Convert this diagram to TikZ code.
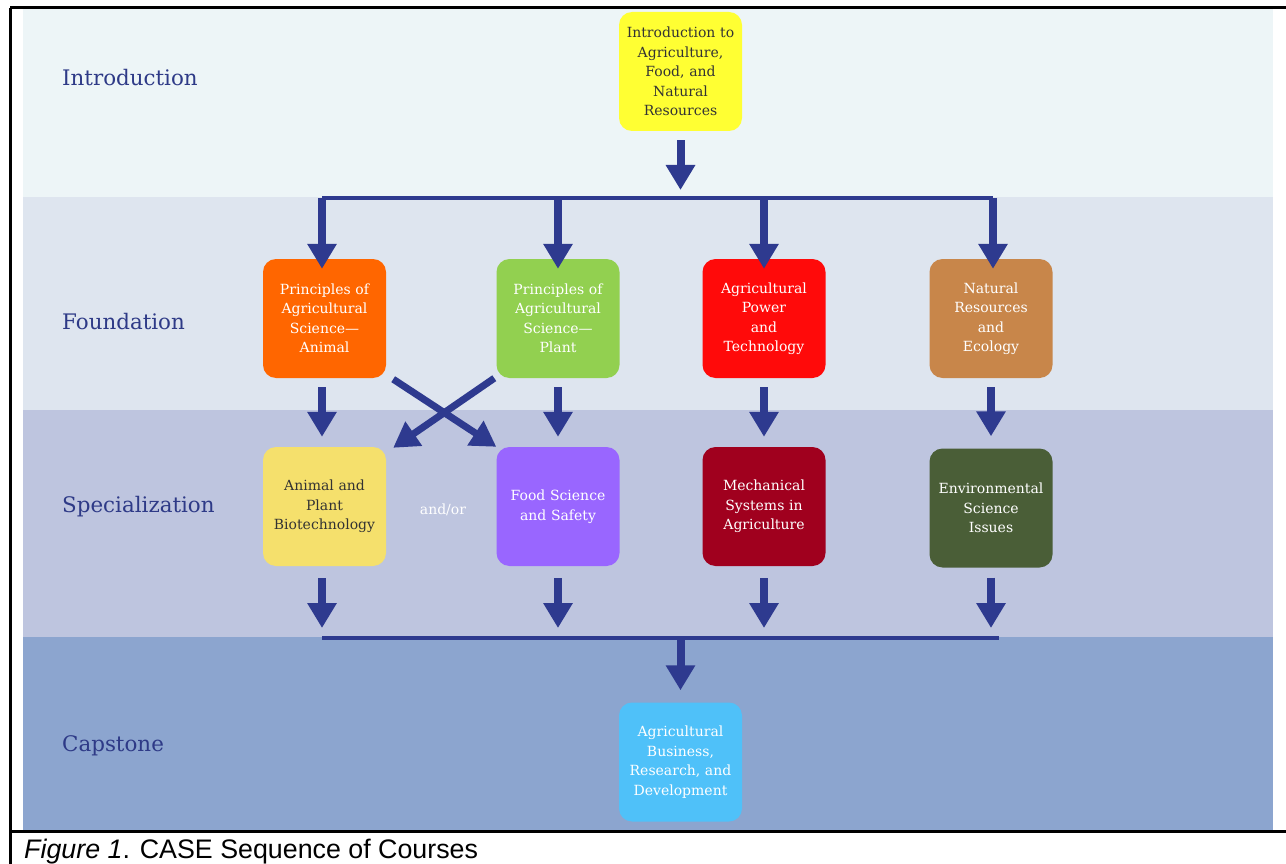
\documentclass[tikz,border=0pt]{standalone}
\usepackage{fontspec}
\setmainfont{DejaVu Serif}
\newfontfamily\capfont{Liberation Sans}
\usetikzlibrary{arrows.meta,calc}
\definecolor{arrowblue}{HTML}{2E3A8F}
\definecolor{labelblue}{HTML}{2E3A87}
\definecolor{bandA}{HTML}{EDF5F7}
\definecolor{bandB}{HTML}{DEE5EF}
\definecolor{bandC}{HTML}{BEC5DF}
\definecolor{bandD}{HTML}{8CA5CF}
\definecolor{cIntro}{HTML}{FFFF33}
\definecolor{cOrange}{HTML}{FF6600}
\definecolor{cGreen}{HTML}{92D050}
\definecolor{cRed}{HTML}{FF0A0A}
\definecolor{cBrown}{HTML}{C8864A}
\definecolor{cYellow}{HTML}{F5E06C}
\definecolor{cPurple}{HTML}{9966FF}
\definecolor{cDarkRed}{HTML}{A0001E}
\definecolor{cDarkGreen}{HTML}{4A5E37}
\definecolor{cCap}{HTML}{4FC1F9}
\definecolor{darktext}{HTML}{333333}
\tikzset{
  course/.style={rounded corners=13pt, minimum width=123pt, minimum height=119pt,
    inner sep=0pt, align=center, text=white,
    font=\fontsize{14}{19.5}\selectfont, text width=120pt},
  levellabel/.style={anchor=west, text=labelblue, font=\fontsize{21.4}{25}\selectfont, inner sep=0pt},
  bigarrow/.style={arrowblue, line width=8pt, -{Triangle[width=28pt,length=25pt]}},
  bus/.style={arrowblue, line width=4pt}
}
\begin{document}
\begin{tikzpicture}[x=1pt,y=-1pt]
\useasboundingbox (0,0) rectangle (1286,864);
% bands
\fill[bandA] (23,9) rectangle (1273,197);
\fill[bandB] (23,197) rectangle (1273,410);
\fill[bandC] (23,410) rectangle (1273,637);
\fill[bandD] (23,637) rectangle (1273,830);
% frame
\draw[line width=3pt] (10,8) -- (1286,8);
\draw[line width=3pt] (10,831) -- (1286,831);
\draw[line width=3pt] (10,8) -- (10,864);
% level labels
\node[levellabel] (lIntro) at (62,78) {Introduction};
\node[levellabel] (lFound) at (62,322) {Foundation};
\node[levellabel] (lSpec) at (62,507) {Specialization};
\node[levellabel] (lCap) at (62,746) {Capstone};
% courses
\node[course, fill=cIntro, text=darktext] (intro) at (680.5,71.5) {Introduction to\\Agriculture,\\Food, and\\Natural\\Resources};
\node[course, fill=cOrange] (animal) at (324.5,318.5) {Principles of\\Agricultural\\Science---\\Animal};
\node[course, fill=cGreen] (plant) at (558,318.5) {Principles of\\Agricultural\\Science---\\Plant};
\node[course, fill=cRed] (power) at (764,318.5) {Agricultural\\Power\\and\\Technology};
\node[course, fill=cBrown] (natres) at (991,318.5) {Natural\\Resources\\and\\Ecology};
\node[course, fill=cYellow, text=darktext] (biotech) at (324.5,506.5) {Animal and\\Plant\\Biotechnology};
\node[course, fill=cPurple] (food) at (558,506.5) {Food Science\\and Safety};
\node[course, fill=cDarkRed] (mech) at (764,506.5) {Mechanical\\Systems in\\Agriculture};
\node[course, fill=cDarkGreen] (env) at (991,508) {Environmental\\Science\\Issues};
\node[course, fill=cCap] (cap) at (680.5,762) {Agricultural\\Business,\\Research, and\\Development};
\node[text=white, font=\fontsize{14}{17}\selectfont, inner sep=0pt] (andor) at (443,510) {and/or};
% top bus
\coordinate (tb) at (680.5,198);
\coordinate (tbL) at (322,198);
\coordinate (tbR) at (993,198);
\draw[bus] (tbL) -- (tbR);
\draw[bigarrow, shorten <=9pt, shorten >=8pt] (intro.south) -- (tb);
\draw[bus, line width=8pt] ([yshift=-2pt]tbL) -- ++(0,6);
\draw[bus, line width=8pt] ([yshift=-2pt]tbR) -- ++(0,6);
\draw[bigarrow] (tbL) -- ([yshift=-10pt]animal.north -| tbL);
\draw[bigarrow] (plant.north |- tb) -- ([yshift=-10pt]plant.north);
\draw[bigarrow] (power.north |- tb) -- ([yshift=-10pt]power.north);
\draw[bigarrow] (tbR) -- ([yshift=-10pt]natres.north -| tbR);
% foundation -> specialization
\draw[bigarrow, shorten <=9pt, shorten >=10pt] (animal.south -| tbL) -- (biotech.north -| tbL);
\draw[bigarrow, shorten <=9pt, shorten >=10pt] (plant.south) -- (food.north);
\draw[bigarrow, shorten <=9pt, shorten >=10pt] (power.south) -- (mech.north);
\draw[bigarrow, shorten <=9pt, shorten >=12pt] (natres.south) -- (env.north);
% crossing arrows
\draw[bigarrow, line width=7pt] ([xshift=7pt,yshift=-1pt]animal.south east) -- ([yshift=0pt]food.north west);
\draw[bigarrow, line width=7pt] ([xshift=-2pt]plant.south west) -- ([xshift=7pt,yshift=-1pt]biotech.north east);
% bottom bus
\coordinate (bb) at (680.5,638);
\coordinate (bbL) at (322,638);
\coordinate (bbR) at (999,638);
\draw[bus] (bbL) -- (bbR);
\draw[bigarrow, shorten <=12pt, shorten >=10pt] (biotech.south -| bbL) -- (bbL);
\draw[bigarrow, shorten <=12pt, shorten >=10pt] (food.south) -- (food.south |- bb);
\draw[bigarrow, shorten <=12pt, shorten >=10pt] (mech.south) -- (mech.south |- bb);
\draw[bigarrow, shorten <=10pt, shorten >=10pt] (env.south) -- (env.south |- bb);
\draw[bigarrow, shorten >=12pt] (bb) -- (cap.north);
% caption
\node[anchor=base west, inner sep=0pt, font=\capfont\fontsize{26.8}{30}\selectfont] (caption) at (24,858) {\textit{Figure 1}. CASE Sequence of Courses};
\end{tikzpicture}
\end{document}
